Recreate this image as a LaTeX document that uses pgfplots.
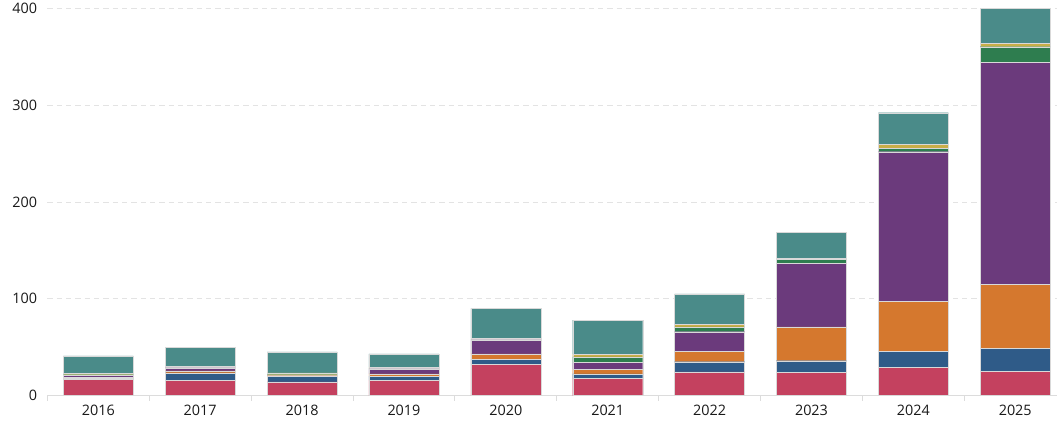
\documentclass[border=0pt]{standalone}
\usepackage{pgfplots}
\usepackage{pgfplotstable}
\pgfplotsset{compat=1.18}
\usepackage{fontspec}
\setmainfont{Open Sans}
\definecolor{cRed}{HTML}{C4415F}
\definecolor{cBlue}{HTML}{2F5B88}
\definecolor{cOrange}{HTML}{D5782E}
\definecolor{cPurple}{HTML}{6B3A7C}
\definecolor{cGreen}{HTML}{2E7D4F}
\definecolor{cYellow}{HTML}{C9AE48}
\definecolor{cTeal}{HTML}{4A8B89}
\definecolor{gridc}{HTML}{E3E3E3}
\definecolor{axisc}{HTML}{DCDCDC}
\pgfplotstableread{
x red blue orange purple green yellow teal
0 17 1 1 2 0.5 1.5 18
1 15.5 8 2 3 0.5 1.5 19.5
2 14 6 0.5 0.5 0.5 2 21.5
3 16 4 2.5 5 0.5 1 14
4 32 5.5 5.5 14.5 0.5 1 31
5 18 4.5 4.5 7 6 2.5 35.5
6 24.5 10.5 11 20 5 2.5 31.5
7 24 12 35 65.5 4.5 1 27
8 29 17 51.5 154.5 3.8 4 32.5
9 25 24 66 229.5 16 3.5 36.5
}\datatable
\begin{document}
\begin{tikzpicture}
\begin{axis}[
  scale only axis,
  width=757.2pt, height=290.25pt,
  ybar stacked,
  bar width=0.687,
  xmin=-0.5, xmax=9.41,
  ymin=0, ymax=400,
  xtick={0,...,9},
  xticklabels={2016,2017,2018,2019,2020,2021,2022,2023,2024,2025},
  minor xtick={-0.5,0.5,...,9.5},
  ytick={0,100,200,300,400},
  major tick length=0pt,
  minor tick length=4pt,
  tick align=outside,
  tick pos=lower,
  minor tick style={axisc, line width=0.75pt},
  ymajorgrids,
  grid style={gridc, dash pattern=on 4pt off 3pt, line width=0.75pt},
  axis x line*=bottom,
  axis y line*=left,
  y axis line style={draw=none},
  x axis line style={axisc, line width=0.75pt, -},
  every tick label/.append style={font=\fontsize{10.8}{12}\selectfont, text=black!90},
  xticklabel style={inner sep=0pt, anchor=north, yshift=-7pt},
  yticklabel style={inner sep=0pt, anchor=east, xshift=-7.5pt},
  /pgf/number format/assume math mode=true,
  clip=false,
  every axis plot/.append style={draw=white!70!gray, line width=0.22pt},
]
\addplot[fill=cRed] table[x=x,y=red]{\datatable};
\addplot[fill=cBlue] table[x=x,y=blue]{\datatable};
\addplot[fill=cOrange] table[x=x,y=orange]{\datatable};
\addplot[fill=cPurple] table[x=x,y=purple]{\datatable};
\addplot[fill=cGreen] table[x=x,y=green]{\datatable};
\addplot[fill=cYellow] table[x=x,y=yellow]{\datatable};
\addplot[fill=cTeal] table[x=x,y=teal]{\datatable};
\end{axis}
\pgfresetboundingbox
\path[use as bounding box] ([xshift=-35.55pt,yshift=-22.9pt]current axis.south west) rectangle ([yshift=6.4pt]current axis.north east);
\end{tikzpicture}
\end{document}
